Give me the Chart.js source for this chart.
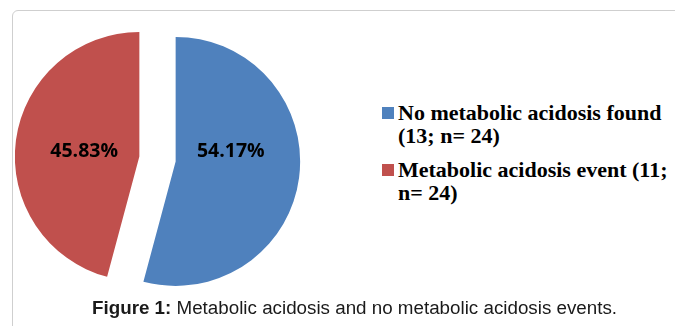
<!DOCTYPE html>
<html>
<head>
<meta charset="utf-8">
<script src="https://cdn.jsdelivr.net/npm/chart.js@4/dist/chart.umd.min.js"></script>
<style>
  html, body { margin: 0; padding: 0; background: #fff; }
  body { width: 675px; height: 326px; position: relative; overflow: hidden; }
  #frame {
    position: absolute; left: 12px; top: 10px; width: 700px; height: 400px;
    border: 1px solid #cfcfcf; border-top-left-radius: 6px; box-sizing: border-box;
  }
  #pieWrap { position: absolute; left: 0; top: 0; width: 315px; height: 318px; }
  #legend {
    position: absolute; left: 382px; top: 101px; width: 290px;
    font-family: "Liberation Serif", "Times New Roman", serif; font-weight: bold;
    font-size: 22px; line-height: 23px; color: #000;
  }
  .item { position: relative; padding-left: 16px; margin-bottom: 11px; }
  .swatch { position: absolute; left: 0; top: 6px; width: 12px; height: 12px; }
  #caption {
    position: absolute; left: 92px; top: 297px; white-space: nowrap;
    font-family: "Liberation Sans", Arial, sans-serif; font-size: 18.8px; color: #1a1a1a;
  }
</style>
</head>
<body>
<div id="frame"></div>
<div id="pieWrap"><canvas id="pie"></canvas></div>
<div id="legend"></div>
<div id="caption"><b>Figure 1:</b> Metabolic acidosis and no metabolic acidosis events.</div>
<script>
// Outcome groups, share of patients (%) and patient counts
const categories = ['No metabolic acidosis found', 'Metabolic acidosis event'];
const percentValues = [54.17, 45.83];
const patientCounts = [13, 11];
const totalPatients = 24;
const sliceColors = ['#4F81BD', '#C0504D'];

// Distance each slice is pulled out from the pie centre
const EXPLODE = 18.3;

// Draws every slice shifted outward along its bisector
const explodePlugin = {
  id: 'explode',
  beforeDatasetDraw(chart, args) {
    const ctx = chart.ctx;
    args.meta.data.forEach(arc => {
      const mid = (arc.startAngle + arc.endAngle) / 2;
      ctx.save();
      ctx.translate(Math.cos(mid) * EXPLODE, Math.sin(mid) * EXPLODE);
      arc.draw(ctx);
      ctx.restore();
    });
    return false;
  }
};

// Percentage labels inside the slices
const sliceLabels = {
  id: 'sliceLabels',
  afterDatasetsDraw(chart) {
    const ctx = chart.ctx;
    const meta = chart.getDatasetMeta(0);
    const values = chart.data.datasets[0].data;
    ctx.save();
    ctx.font = 'bold 19.5px "Open Sans", sans-serif';
    ctx.fillStyle = '#000';
    ctx.textAlign = 'center';
    ctx.textBaseline = 'middle';
    meta.data.forEach((arc, i) => {
      const mid = (arc.startAngle + arc.endAngle) / 2;
      const r = arc.outerRadius;
      const dist = EXPLODE + r * 0.447;
      const x = arc.x + Math.cos(mid) * dist;
      const y = arc.y - r * 0.06;
      ctx.fillText(values[i].toFixed(2) + '%', x, y);
    });
    ctx.restore();
  }
};

new Chart(document.getElementById('pie'), {
  type: 'pie',
  data: {
    labels: categories,
    datasets: [{
      data: percentValues,
      backgroundColor: sliceColors,
      borderWidth: 0,
      radius: 124.5
    }]
  },
  options: {
    responsive: true,
    maintainAspectRatio: false,
    animation: false,
    layout: { padding: 0 },
    plugins: {
      legend: { display: false },
      tooltip: { enabled: false }
    }
  },
  plugins: [explodePlugin, sliceLabels]
});

// Legend on the right
const legend = document.getElementById('legend');
categories.forEach((name, i) => {
  const item = document.createElement('div');
  item.className = 'item';
  const sw = document.createElement('span');
  sw.className = 'swatch';
  sw.style.background = sliceColors[i];
  item.appendChild(sw);
  item.appendChild(document.createTextNode(name + ' (' + patientCounts[i] + '; n= ' + totalPatients + ')'));
  legend.appendChild(item);
});
</script>
</body>
</html>
